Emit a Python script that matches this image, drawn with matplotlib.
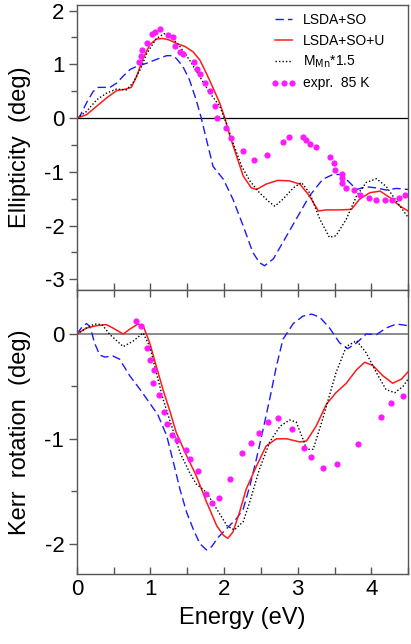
import numpy as np
import matplotlib
matplotlib.use("Agg")
import matplotlib.pyplot as plt

plt.rcParams["font.family"] = ["Liberation Sans", "DejaVu Sans"]
plt.rcParams["axes.unicode_minus"] = False

# ---- Ellipticity (top panel) ----
ell_so_x = [0, 0.04, 0.13, 0.22, 0.29, 0.36, 0.45, 0.54, 0.63, 0.72, 0.81, 0.95, 1.08, 1.22, 1.29,
            1.35, 1.44, 1.53, 1.62, 1.69, 1.76, 1.85, 1.99, 2.12, 2.26, 2.39, 2.48, 2.55, 2.67, 2.8,
            2.98, 3.16, 3.34, 3.48, 3.57, 3.66, 3.8, 3.93, 4.07, 4.2, 4.34, 4.5]
ell_so_y = [0, 0.03, 0.28, 0.49, 0.57, 0.57, 0.57, 0.65, 0.78, 0.9, 0.96, 1.02, 1.09, 1.16, 1.16,
            1.11, 0.96, 0.71, 0.34, 0, -0.40, -0.90, -1.14, -1.51, -2.01, -2.50, -2.69, -2.75, -2.62, -2.31,
            -1.88, -1.45, -1.14, -1.05, -1.05, -1.14, -1.33, -1.28, -1.30, -1.34, -1.31, -1.33]

ell_u_x = [0, 0.13, 0.27, 0.40, 0.54, 0.67, 0.74, 0.81, 0.90, 0.99, 1.08, 1.17, 1.26, 1.35, 1.47,
           1.58, 1.67, 1.76, 1.85, 1.94, 2.01, 2.08, 2.17, 2.26, 2.37, 2.44, 2.57, 2.73, 2.89, 3.03,
           3.16, 3.28, 3.39, 3.57, 3.73, 3.84, 3.98, 4.12, 4.25, 4.39, 4.5]
ell_u_y = [0, 0.06, 0.22, 0.37, 0.51, 0.54, 0.57, 0.77, 1.11, 1.36, 1.47, 1.48, 1.45, 1.39, 1.33,
           1.23, 1.08, 0.83, 0.56, 0.28, 0, -0.34, -0.71, -1.08, -1.30, -1.33, -1.23, -1.16, -1.17, -1.23,
           -1.45, -1.73, -1.71, -1.71, -1.70, -1.51, -1.39, -1.36, -1.48, -1.64, -1.73]

ell_m_x = [0, 0.13, 0.27, 0.40, 0.54, 0.67, 0.76, 0.86, 0.95, 1.08, 1.19, 1.26, 1.40, 1.53, 1.67,
           1.81, 1.94, 2.03, 2.12, 2.24, 2.35, 2.48, 2.62, 2.69, 2.80, 2.94, 3.05, 3.16, 3.30, 3.43,
           3.52, 3.66, 3.80, 3.93, 4.07, 4.20, 4.39, 4.5]
ell_m_y = [0, 0.12, 0.34, 0.46, 0.54, 0.52, 0.65, 0.90, 1.20, 1.48, 1.57, 1.54, 1.33, 1.08, 0.77,
           0.46, 0.22, -0.09, -0.46, -0.90, -1.17, -1.39, -1.57, -1.64, -1.51, -1.30, -1.20, -1.39, -1.88, -2.22,
           -2.19, -1.88, -1.45, -1.20, -1.13, -1.27, -1.64, -1.85]

ell_exp_x = [0.846, 0.878, 0.887, 0.955, 1.027, 1.068, 1.127, 1.240, 1.308, 1.335, 1.398, 1.443, 1.588,
             1.633, 1.670, 1.738, 1.805, 1.882, 1.910, 2.032, 2.100, 2.258, 2.407, 2.584, 2.801, 2.882,
             3.072, 3.118, 3.172, 3.244, 3.434, 3.493, 3.511, 3.597, 3.606, 3.606, 3.661, 3.765, 3.851,
             3.964, 4.068, 4.181, 4.285, 4.376, 4.452]
ell_exp_y = [1.049, 1.154, 1.265, 1.401, 1.556, 1.593, 1.648, 1.549, 1.500, 1.346, 1.235, 1.185, 1.049,
             0.914, 0.821, 0.648, 0.494, 0.216, 0.0, -0.185, -0.370, -0.617, -0.772, -0.679, -0.451, -0.352,
             -0.352, -0.414, -0.475, -0.543, -0.722, -0.846, -0.969, -1.037, -1.123, -1.216, -1.309, -1.346, -1.432,
             -1.481, -1.531, -1.531, -1.531, -1.488, -1.432]

# ---- Kerr rotation (bottom panel) ----
kerr_so_x = [0, 0.06, 0.13, 0.18, 0.24, 0.31, 0.38, 0.49, 0.58, 0.72, 0.86, 0.99, 1.10, 1.22, 1.31,
             1.40, 1.49, 1.58, 1.67, 1.76, 1.83, 1.92, 2.03, 2.17, 2.26, 2.35, 2.44, 2.53, 2.62, 2.71,
             2.80, 2.94, 3.07, 3.19, 3.30, 3.43, 3.57, 3.68, 3.80, 3.93, 4.07, 4.20, 4.34, 4.5]
kerr_so_y = [0, 0.057, 0.10, 0.07, -0.085, -0.20, -0.22, -0.21, -0.24, -0.40, -0.53, -0.66, -0.77, -0.97, -1.22,
             -1.48, -1.70, -1.86, -2.0, -2.06, -2.03, -1.94, -1.86, -1.76, -1.67, -1.45, -1.19, -0.91, -0.62, -0.31,
             -0.05, 0.10, 0.17, 0.19, 0.16, 0.06, -0.085, -0.14, -0.085, 0, -0.006, 0.057, 0.095, 0.08]

kerr_u_x = [0, 0.13, 0.27, 0.40, 0.49, 0.63, 0.72, 0.83, 0.90, 0.99, 1.08, 1.17, 1.27, 1.35, 1.49,
            1.62, 1.76, 1.90, 1.99, 2.05, 2.12, 2.21, 2.30, 2.44, 2.57, 2.71, 2.85, 3.03, 3.12, 3.25,
            3.39, 3.52, 3.66, 3.80, 3.91, 4.02, 4.16, 4.29, 4.41, 4.5]
kerr_u_y = [0, 0.057, 0.08, 0.09, 0.057, 0, 0.047, 0.095, 0.08, -0.085, -0.31, -0.53, -0.75, -0.94, -1.16,
            -1.35, -1.60, -1.83, -1.92, -1.95, -1.89, -1.70, -1.48, -1.26, -1.07, -1.0, -1.0, -1.03, -1.02, -0.88,
            -0.67, -0.56, -0.47, -0.34, -0.27, -0.30, -0.40, -0.47, -0.43, -0.36]

kerr_m_x = [0, 0.13, 0.24, 0.34, 0.45, 0.63, 0.76, 0.90, 0.99, 1.08, 1.17, 1.27, 1.40, 1.53, 1.62,
            1.76, 1.90, 2.04, 2.14, 2.26, 2.35, 2.48, 2.62, 2.76, 2.89, 2.98, 3.07, 3.12, 3.21, 3.34,
            3.52, 3.66, 3.80, 3.93, 4.07, 4.20, 4.32, 4.43, 4.5]
kerr_m_y = [0, 0.057, 0.095, 0.09, -0.006, -0.12, -0.07, 0.01, -0.12, -0.37, -0.62, -0.84, -1.13, -1.32, -1.43,
            -1.51, -1.67, -1.83, -1.87, -1.79, -1.60, -1.29, -1.03, -0.88, -0.82, -0.84, -1.0, -1.10, -1.10, -0.81,
            -0.37, -0.12, -0.063, -0.18, -0.37, -0.53, -0.56, -0.50, -0.43]

kerr_exp_x = [0.810, 0.878, 0.955, 0.991, 1.050, 1.036, 1.118, 1.181, 1.226, 1.294, 1.362, 1.480, 1.543,
              1.647, 1.760, 1.842, 1.928, 2.077, 2.240, 2.362, 2.475, 2.597, 2.738, 2.923, 3.086, 3.176,
              3.344, 3.538, 3.814, 4.131, 4.267, 4.430]
kerr_exp_y = [0.120, 0.079, -0.133, -0.250, -0.347, -0.472, -0.585, -0.744, -0.861, -0.962, -1.013, -1.111, -1.190,
              -1.307, -1.522, -1.617, -1.566, -1.380, -1.133, -1.038, -0.949, -0.842, -0.797, -0.911, -1.092, -1.177,
              -1.275, -1.244, -1.051, -0.794, -0.661, -0.595]

BLUE = "#1a1aff"
RED = "#ff1a1a"
MAG = "#ff1aff"

fig = plt.figure(figsize=(4.11, 6.44), dpi=100)
ax1 = fig.add_axes([0.187, 0.5497, 0.806, 0.4423])
ax2 = fig.add_axes([0.187, 0.1087, 0.806, 0.441])

ax1.axhline(0, color="black", lw=0.9, zorder=1)
ax2.axhline(0, color="#777777", lw=1.2, zorder=1)

ax1.plot(ell_so_x, ell_so_y, color=BLUE, lw=1.0, ls=(0, (6, 3)), label="LSDA+SO")
ax1.plot(ell_u_x, ell_u_y, color=RED, lw=1.1, label="LSDA+SO+U")
ax1.plot(ell_m_x, ell_m_y, color="black", lw=1.0, ls=(0, (1, 1.5)), label=r"M$_{\rm Mn}$*1.5")
ax1.plot(ell_exp_x, ell_exp_y, ls="none", marker="o", ms=4.5, color=MAG, mec="none", label="expr.  85 K")

ax2.plot(kerr_so_x, kerr_so_y, color=BLUE, lw=1.0, ls=(0, (6, 3)))
ax2.plot(kerr_u_x, kerr_u_y, color=RED, lw=1.1)
ax2.plot(kerr_m_x, kerr_m_y, color="black", lw=1.0, ls=(0, (1, 1.5)))
ax2.plot(kerr_exp_x, kerr_exp_y, ls="none", marker="o", ms=4.5, color=MAG, mec="none")

ax1.set_xlim(0, 4.5)
ax2.set_xlim(0, 4.5)
ax1.set_ylim(-3.2, 2.1)
ax2.set_ylim(-2.29, 0.42)

ax1.set_yticks([2, 1, 0, -1, -2, -3])
ax1.set_yticks(np.arange(-3, 2.01, 0.5), minor=True)
ax2.set_yticks([0, -1, -2])
ax2.set_yticks([0, -0.5, -1, -1.5, -2], minor=True)
for ax in (ax1, ax2):
    ax.set_xticks([0, 1, 2, 3, 4])
    ax.set_xticks(np.arange(0, 4.51, 0.5), minor=True)
    for s in ax.spines.values():
        s.set_color("#555555")
        s.set_linewidth(1.0)
    ax.tick_params(axis="y", which="major", direction="out", length=6, width=1, color="#555555",
                   labelsize=16, pad=3)
    ax.tick_params(axis="y", which="minor", direction="out", length=4, width=1, color="#555555")
    ax.tick_params(axis="x", which="both", direction="in", length=5, width=1, color="#555555",
                   labelsize=16)

ax1.tick_params(axis="x", which="both", labelbottom=False)
ax2.tick_params(axis="x", which="both", top=True)

ax1.set_ylabel("Ellipticity  (deg)", fontsize=17, labelpad=10)
ax2.set_ylabel("Kerr  rotation  (deg)", fontsize=17, labelpad=10)
ax2.set_xlabel("Energy (eV)", fontsize=17, labelpad=5)
fig.align_ylabels([ax1, ax2])

ax1.legend(loc="upper right", bbox_to_anchor=(0.948, 0.991), frameon=False, fontsize=10,
           handlelength=1.8, handletextpad=0.5, labelspacing=0.45, borderaxespad=0.0,
           numpoints=3)

fig.savefig("out.png", dpi=100)
